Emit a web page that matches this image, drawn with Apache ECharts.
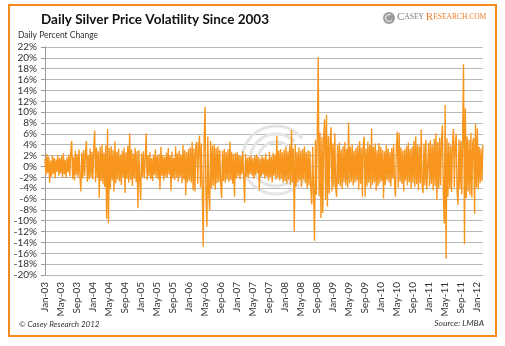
<!DOCTYPE html>
<html>
<head>
<meta charset="utf-8">
<script src="https://cdn.jsdelivr.net/npm/echarts@6/dist/echarts.min.js"></script>
<style>
html,body{margin:0;padding:0;background:#fff;}
#chart{width:505px;height:346px;}
</style>
</head>
<body>
<div id="chart"></div>
<script>
// Weekly extreme daily % changes (one array per year, 52 weeks each)
var y2003 = [1.4,-1.6,2.3,-1.2,1.8,-3.0,1.1,-1.9,2.0,-1.4,1.6,-2.2,1.3,-1.0,2.1,-1.7,1.5,-1.3,1.9,-2.0,2.4,-1.5,1.2,-2.1,1.7,-1.1,2.2,-1.8,2.6,4.7,-2.3,1.8,-2.6,2.9,-1.6,2.3,-2.0,3.1,-1.9,-4.6,2.5,-2.2,3.0,-1.7,2.4,4.7,-2.8,2.1,-2.4,3.3,-2.0,2.7];
var y2004 = [-2.4,3.2,6.6,-2.9,3.5,-2.1,2.8,-5.8,3.6,-2.7,4.1,-3.3,2.5,-3.8,3.9,-9.6,6.9,-10.5,3.4,-4.2,3.7,-2.6,3.0,-4.6,4.6,-3.1,2.7,-2.4,3.3,-2.8,2.2,-3.4,2.9,-2.0,3.5,-4.9,2.6,-2.3,3.8,-3.0,6.1,-2.5,3.1,-3.6,2.4,-2.2,3.4,-2.9,2.8,-7.7,3.0,-2.5];
var y2005 = [-6.2,2.4,-1.9,2.8,-2.2,1.7,6.1,-2.5,2.0,-1.8,2.6,-2.3,1.5,-2.7,2.2,-1.6,3.1,-2.0,1.9,-2.4,2.3,-4.3,3.6,-1.7,2.1,-2.6,1.8,-1.9,2.5,-2.1,3.4,-1.5,2.0,-4.5,2.7,-2.2,1.6,-2.5,3.7,-2.0,2.4,-2.8,2.9,-1.9,2.2,-3.1,4.0,-2.4,3.0,-5.3,2.6,-2.9];
var y2006 = [3.2,-2.6,3.5,-3.0,4.5,-4.4,3.3,-4.6,3.9,4.5,-3.2,3.6,5.7,-3.9,4.2,-4.5,-14.8,5.2,11.0,-5.6,-11.1,5.5,-4.9,-8.2,4.7,-4.0,3.8,-3.5,4.1,-4.3,3.4,-3.1,3.7,-2.9,3.0,-3.3,-5.8,2.9,-2.7,3.2,-3.0,2.6,-2.4,3.1,-2.8,4.6,-2.5,2.7,-3.2,2.3,-5.6,2.5];
var y2007 = [-2.2,2.6,-1.8,2.1,-2.4,1.9,-1.5,2.8,-2.0,-6.7,2.3,-1.9,1.6,-2.1,1.8,-1.4,2.0,-1.7,1.5,-2.3,1.9,-1.6,2.2,-1.3,1.7,-4.4,1.4,-1.9,2.0,-1.5,1.6,-2.2,2.4,-1.8,1.3,-2.6,2.7,-2.0,1.8,-2.9,2.5,-1.7,2.2,-2.4,5.6,-2.1,2.9,-2.6,3.2,-2.3,2.6,-3.0];
var y2008 = [3.1,-2.7,3.6,-3.2,2.8,-2.5,3.9,-3.4,6.7,-2.9,3.3,-12.0,4.1,-3.6,2.7,-3.0,3.5,-2.6,2.9,-3.8,3.2,-2.4,3.7,-3.1,2.6,-4.0,3.0,-3.5,2.8,-4.4,-7.0,3.6,-4.8,-13.7,4.9,-5.2,5.8,20.1,-5.5,6.2,-9.5,5.4,-8.6,5.9,8.7,-6.1,9.5,-7.4,5.6,-5.0,4.8,7.2];
var y2009 = [-4.6,4.2,-3.8,6.1,-4.1,-5.6,3.9,-3.3,4.4,-3.6,3.1,-4.2,3.7,-2.9,4.5,-3.4,3.2,-3.9,8.1,-3.1,3.6,-2.8,4.0,-3.5,2.9,-3.0,3.4,-2.6,3.8,-4.3,4.7,-3.2,3.5,-5.6,4.1,5.5,-5.6,3.3,-3.7,4.6,-3.0,3.9,-4.0,7.0,-3.4,3.6,-2.9,4.2,-4.5,3.0,-3.6,4.3];
var y2010 = [-3.1,3.6,-2.7,3.0,-5.9,2.8,-3.4,3.9,-2.5,3.3,-3.0,2.6,-3.7,3.4,-2.2,4.1,-3.3,-5.6,3.7,6.4,-3.9,6.2,-2.8,3.5,-3.2,2.9,-4.6,3.1,-2.6,3.8,-3.5,4.4,-2.9,3.2,-4.1,3.6,-3.0,4.7,-3.8,5.5,-3.3,4.0,-4.4,3.7,-3.1,6.8,-3.6,-4.9,4.2,-3.5,4.9,-4.3];
var y2011 = [-4.6,4.3,-3.7,4.8,-3.2,3.9,-4.4,5.1,-3.6,6.1,-6.2,4.5,-4.0,5.3,-3.5,4.9,7.6,-4.8,-10.5,11.3,-17.0,5.2,-5.6,4.4,-4.1,3.8,-4.7,4.6,6.9,-3.9,4.2,6.0,-4.5,-7.1,5.0,-4.2,4.7,-5.1,5.4,18.8,-14.3,10.7,-5.8,5.5,-4.6,4.9,-5.2,6.2,-5.7,4.4,5.3,-8.7];
var y2012 = [7.8,-3.9,7.0,-4.2,3.6,-3.1,3.3,-2.7,4.0];

var tickLabels = ['Jan-03','May-03','Sep-03','Jan-04','May-04','Sep-04','Jan-05','May-05','Sep-05','Jan-06','May-06','Sep-06','Jan-07','May-07','Sep-07','Jan-08','May-08','Sep-08','Jan-09','May-09','Sep-09','Jan-10','May-10','Sep-10','Jan-11','May-11','Sep-11','Jan-12'];

var weekly = [].concat(y2003,y2004,y2005,y2006,y2007,y2008,y2009,y2010,y2011,y2012);
var MONTHS_PER_WEEK = 12/52.18;
var seriesData = weekly.map(function(v,i){ return [i*MONTHS_PER_WEEK, v]; });

var chart = echarts.init(document.getElementById('chart'), null, {renderer:'canvas'});
var FONT = 'Lato, "Open Sans", sans-serif';
var grayLine = '#b8b8b8';
var orange = '#f7951c';

chart.setOption({
  animation:false,
  backgroundColor:'#ffffff',
  grid:{left:45, right:22, top:47, bottom:71, containLabel:false},
  xAxis:{
    type:'value', min:0, max:109.5, interval:4,
    axisLine:{show:true, onZero:false, lineStyle:{color:grayLine, width:1}},
    axisTick:{show:false},
    splitLine:{show:false},
    axisLabel:{
      rotate:90, margin:7, fontSize:10, color:'#333', fontFamily:FONT,
      showMaxLabel:false,
      formatter:function(v){ if (Math.abs(v/4 - Math.round(v/4))>1e-6) return ''; return tickLabels[Math.round(v/4)] || ''; }
    }
  },
  yAxis:{
    type:'value', min:-20, max:22, interval:2,
    axisLine:{show:true, lineStyle:{color:'#9a9a9a', width:1}},
    axisTick:{show:true, length:4, lineStyle:{color:'#9a9a9a'}},
    splitLine:{show:true, lineStyle:{color:grayLine, width:1}},
    axisLabel:{formatter:'{value}%', fontSize:10, color:'#333', fontFamily:FONT, margin:8}
  },
  series:[{
    type:'line', data:seriesData, showSymbol:false, symbol:'none',
    sampling:null, z:3,
    lineStyle:{color:orange, width:1.35}
  }],
  graphic:[
    {type:'rect', shape:{x:9, y:5, width:487, height:331}, style:{fill:'none', stroke:'#f58a1f', lineWidth:2}, z:10},
    // watermark
    {type:'arc', shape:{cx:276, cy:160, r:34, startAngle:0.5, endAngle:5.6}, style:{fill:'none', stroke:'#e4e4e4', lineWidth:3}, z:1},
    {type:'arc', shape:{cx:276, cy:160, r:26, startAngle:0.6, endAngle:5.5}, style:{fill:'none', stroke:'#e4e4e4', lineWidth:3}, z:1},
    {type:'arc', shape:{cx:276, cy:160, r:18, startAngle:0.7, endAngle:5.4}, style:{fill:'none', stroke:'#e4e4e4', lineWidth:3}, z:1},
    // title
    {type:'text', left:41, top:13, style:{text:'Daily Silver Price Volatility Since 2003', font:'bold 13.5px Lato, sans-serif', fill:'#111'}, z:10},
    {type:'text', left:18, top:31, style:{text:'Daily Percent Change', font:'8.5px Lato, sans-serif', fill:'#333'}, z:10},
    // logo
    {type:'circle', shape:{cx:389, cy:18, r:6}, style:{fill:'#9c9c9c'}, z:10},
    {type:'arc', shape:{cx:389, cy:18, r:3.5, startAngle:0.6, endAngle:5.2}, style:{fill:'none', stroke:'#ffffff', lineWidth:1}, z:11},
    {type:'text', left:397, top:12, style:{
      text:'{g1|C}{g2|ASEY }{o1|R}{o2|ESEARCH.COM}',
      rich:{
        g1:{font:'11px "Liberation Serif", serif', fill:'#7a7a7a'},
        g2:{font:'7.5px "Liberation Serif", serif', fill:'#7a7a7a'},
        o1:{font:'11px "Liberation Serif", serif', fill:'#ef7d2e'},
        o2:{font:'7.5px "Liberation Serif", serif', fill:'#ef7d2e'}
      }
    }, z:10},
    // footer
    {type:'text', left:19, top:320, style:{text:'\u00a9 Casey Research 2012', font:'italic 8px Lato, sans-serif', fill:'#333'}, z:10},
    {type:'text', right:21, top:319, style:{text:'Source: LMBA', font:'italic 8.5px Lato, sans-serif', fill:'#333'}, z:10}
  ]
});
</script>
</body>
</html>
